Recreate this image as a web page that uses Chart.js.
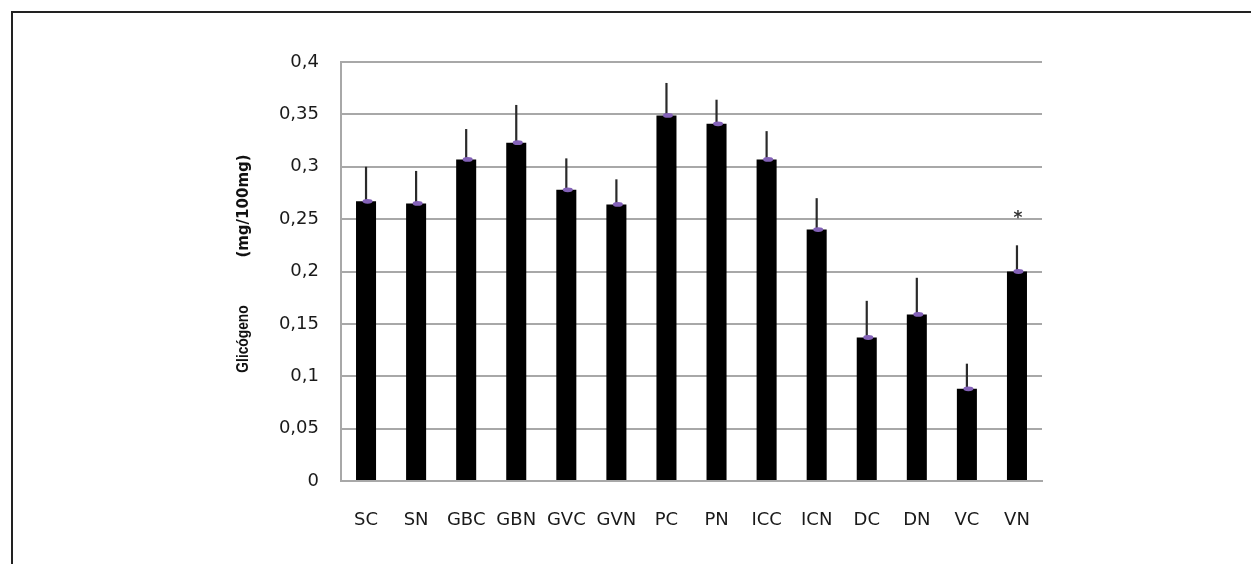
<!DOCTYPE html>
<html>
<head>
<meta charset="utf-8">
<script src="https://cdn.jsdelivr.net/npm/chart.js@4/dist/chart.umd.min.js"></script>
<style>
  html, body { margin: 0; padding: 0; background: #fff; }
  canvas { display: block; }
</style>
</head>
<body>
<canvas id="chart" width="1251" height="564"></canvas>
<script>
const GROUPS = ["SC", "SN", "GBC", "GBN", "GVC", "GVN", "PC", "PN", "ICC", "ICN", "DC", "DN", "VC", "VN"];
const GLYCOGEN = [0.267, 0.265, 0.307, 0.323, 0.278, 0.264, 0.349, 0.341, 0.307, 0.240, 0.137, 0.159, 0.088, 0.200];
const SD = [0.033, 0.031, 0.029, 0.036, 0.030, 0.024, 0.031, 0.023, 0.027, 0.030, 0.035, 0.035, 0.024, 0.025];
const MARKS = ["", "", "", "", "", "", "", "", "", "", "", "", "", "*"];
const Y_TICKS = [0, 0.05, 0.1, 0.15, 0.2, 0.25, 0.3, 0.35, 0.4];

const FONT = "'DejaVu Sans', 'Liberation Sans', sans-serif";
const GRID = "#a8a8a8";

// frame, error bars, purple caps, asterisk and the two-weight y title
const extras = {
  id: "extras",
  beforeDraw(chart) {
    const { ctx, width, height } = chart;
    ctx.save();
    ctx.fillStyle = "#fff";
    ctx.fillRect(0, 0, width, height);
    ctx.strokeStyle = "#222";
    ctx.lineWidth = 2;
    ctx.beginPath();
    ctx.moveTo(12, height);
    ctx.lineTo(12, 12);
    ctx.lineTo(width, 12);
    ctx.stroke();
    ctx.restore();
  },
  afterDatasetsDraw(chart) {
    const { ctx } = chart;
    const y = chart.scales.y;
    const meta = chart.getDatasetMeta(0);
    ctx.save();
    meta.data.forEach((bar, i) => {
      const top = y.getPixelForValue(GLYCOGEN[i]);
      const errTop = y.getPixelForValue(GLYCOGEN[i] + SD[i]);
      ctx.strokeStyle = "#2a2a2a";
      ctx.lineWidth = 2.2;
      ctx.beginPath();
      ctx.moveTo(bar.x, top);
      ctx.lineTo(bar.x, errTop);
      ctx.stroke();
      ctx.fillStyle = "#8462b8";
      ctx.beginPath();
      ctx.ellipse(bar.x + 1.5, top, 5, 2.4, 0, 0, Math.PI * 2);
      ctx.fill();
      if (MARKS[i]) {
        ctx.fillStyle = "#333";
        ctx.font = "bold 17px " + FONT;
        ctx.textAlign = "center";
        ctx.textBaseline = "middle";
        ctx.fillText(MARKS[i], bar.x + 1, errTop - 27);
      }
    });
    ctx.restore();
  },
  afterDraw(chart) {
    const { ctx } = chart;
    ctx.save();
    ctx.translate(244, 0);
    ctx.rotate(-Math.PI / 2);
    ctx.fillStyle = "#111";
    ctx.textAlign = "center";
    ctx.textBaseline = "middle";
    ctx.font = "bold 15px " + FONT;
    ctx.fillText("(mg/100mg)", -206, 0);
    // condensed look of the original word
    ctx.translate(-339, 0);
    ctx.scale(0.86, 1);
    ctx.font = "bold 16px 'Liberation Sans', Arial, sans-serif";
    ctx.fillText("Glicógeno", 0, 0);
    ctx.restore();
  }
};

new Chart(document.getElementById("chart"), {
  type: "bar",
  data: {
    labels: GROUPS,
    datasets: [{
      data: GLYCOGEN,
      backgroundColor: "#000",
      borderWidth: 0,
      barPercentage: 0.4,
      categoryPercentage: 1
    }]
  },
  options: {
    responsive: false,
    animation: false,
    devicePixelRatio: 1,
    layout: { padding: { left: 0, right: 209, top: 62, bottom: 0 } },
    plugins: { legend: { display: false }, tooltip: { enabled: false } },
    scales: {
      x: {
        grid: { display: false, drawTicks: false },
        border: { display: true, color: GRID, width: 2 },
        ticks: { color: "#1a1a1a", font: { family: FONT, size: 18 }, padding: 29, maxRotation: 0, autoSkip: false },
        afterFit(scale) { scale.height = 83; }
      },
      y: {
        min: 0,
        max: 0.4,
        afterBuildTicks(scale) { scale.ticks = Y_TICKS.map((v) => ({ value: v })); },
        grid: { color: GRID, lineWidth: 2, drawTicks: false },
        border: { display: true, color: GRID, width: 2 },
        ticks: {
          color: "#1a1a1a",
          font: { family: FONT, size: 18 },
          padding: 22,
          callback: (v) => String(Math.round(v * 100) / 100).replace(".", ",")
        },
        afterFit(scale) { scale.width = 341; }
      }
    }
  },
  plugins: [extras]
});
</script>
</body>
</html>
